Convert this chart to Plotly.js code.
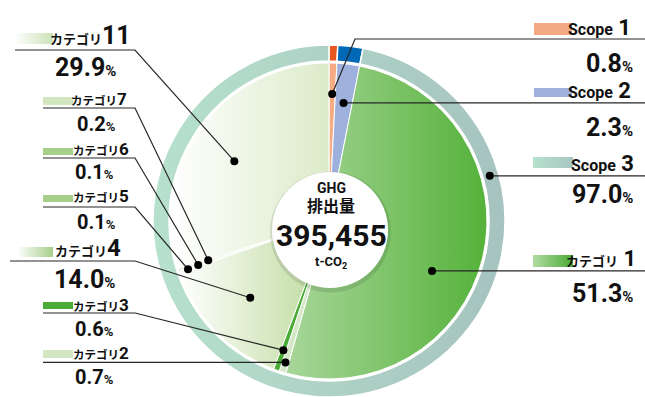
<!DOCTYPE html>
<html><head><meta charset="utf-8">
<script src="https://cdn.plot.ly/plotly-3.0.1.min.js"></script>
<style>html,body{margin:0;padding:0;background:#fff}#chart{width:645px;height:397px}</style>
</head><body><div id="chart"></div>
<script>
// ---- data ----
const ringLabels = ['Scope 1', 'Scope 2', 'Scope 3'];
const ringValues = [0.8, 2.3, 97.0];
const pieLabels = ['Scope 1', 'Scope 2', 'カテゴリ1', 'カテゴリ2', 'カテゴリ3', 'カテゴリ4', 'カテゴリ5', 'カテゴリ6', 'カテゴリ7', 'カテゴリ11'];
const pieValues = [0.8, 2.3, 51.3, 0.7, 0.6, 14.0, 0.1, 0.1, 0.2, 29.9];
const centerTitle = ['GHG', '排出量'];
const totalValue = '395,455';
const totalUnit = 't-CO<sub>2</sub>';

// ---- styles / geometry ----
const W = 645, H = 397;
const CX = 329, CY = 221, R_OUT = 176, R_IN = 158;
const FONT = "'Liberation Sans Narrow', Roboto, 'Noto Sans CJK JP', sans-serif";
const px = x => x / W, py = y => 1 - y / H;
const ringColors = ['#e8571e', '#0068b7', '#b0d3c6'];
const pieColors = ['#f5ac82', '#9eb0dc', '#80c46a', '#d5e8c8', '#4aac36', '#d4e8bf', '#a8d48c', '#a8d48c', '#d2e6c0', '#eef5e4'];
const ringGrad = {2: ['#b6e1cd', '#a6c3bf']};
const pieGrad = {2: ['#a8d69a', '#55b23a'], 5: ['#ffffff', '#bcd99a'], 9: ['#ffffff', '#dcebc9']};

function sliceAngles(vals) {
  const tot = vals.reduce((a, b) => a + b, 0);
  let c = 0;
  return vals.map(v => { const s = c / tot * 360; c += v; return [s, c / tot * 360]; });
}
const ringAng = sliceAngles(ringValues), pieAng = sliceAngles(pieValues);

const leaders = [
  {tr: 'pie', i: 9, frac: 0.464, r: 112, side: 'L', x0: 15, y: 50, head: [133, 36, 25, 13], pct: [85, 67.5, 25, 15], sw: [15, 33, 53, 44], g: ['#ffffff', '#cbe1b7']},
  {tr: 'pie', i: 8, frac: 0.5, r: 127, side: 'L', x0: 43, y: 108, head: [129, 99, 17, 11.5], pct: [96, 124, 20, 13], sw: [43, 97, 73, 105], c: '#d2e6c0'},
  {tr: 'pie', i: 7, frac: 0.5, r: 138, side: 'L', x0: 43, y: 158, head: [131, 149, 17, 11.5], pct: [94, 172, 20, 13], sw: [43, 148, 73, 155], c: '#a6d08a'},
  {tr: 'pie', i: 6, frac: 0.5, r: 149, side: 'L', x0: 43, y: 207, head: [131, 196, 17, 11.5], pct: [96, 222, 20, 13], sw: [43, 195, 73, 202], c: '#a6d08a'},
  {tr: 'pie', i: 5, frac: 0.5, r: 110, side: 'L', x0: 10, y: 261, head: [123, 248.5, 24, 13], pct: [84, 279, 25, 15], sw: [17, 247, 53, 257], g: ['#ffffff', '#a6cf8a']},
  {tr: 'pie', i: 4, frac: 0.5, r: 137, side: 'L', x0: 43, y: 313, head: [131, 304.5, 17, 11.5], pct: [94, 329, 20, 13], sw: [43, 302, 73, 309], c: '#4aac36'},
  {tr: 'pie', i: 3, frac: 0.5, r: 148, side: 'L', x0: 43, y: null, head: [131, 353, 17, 11.5], pct: [94, 377, 20, 13], sw: [43, 350, 73, 358], c: '#d4e6c4'},
  {tr: 'ring', i: 0, frac: 0.5, r: 127, side: 'R', ex: 355, y: 39, head: [633, 27.5, 22, 16], pct: [635, 64, 25, 15], sw: [534, 23, 572, 35], c: '#f4a982', pieIdx: 0},
  {tr: 'ring', i: 1, frac: 0.5, r: 119, side: 'R', y: null, head: [633, 91, 22, 16], pct: [635, 127, 25, 15], sw: [534, 88, 572, 97], c: '#9db1dc', pieIdx: 1},
  {tr: 'ring', i: 2, frac: 0.181, r: 167, side: 'R', y: null, head: [636, 163.5, 22, 16], pct: [635, 194, 25, 15], sw: [533, 157, 573, 168], g: ['#b6e1cd', '#a8c6c1']},
  {tr: 'pie', i: 2, frac: 0.567, r: 114.5, side: 'R', y: null, head: [638, 258.5, 22, 13], pct: [635, 293, 25, 15], sw: [533, 255, 573, 267], g: ['#b0dba3', '#4aab33']}
];

const shapes = [], annotations = [], swatchGrads = [];
const LINE = {color: '#262626', width: 1.2};

leaders.forEach(L => {
  const ang = L.pieIdx !== undefined ? pieAng[L.pieIdx] : (L.tr === 'pie' ? pieAng[L.i] : ringAng[L.i]);
  const th = (ang[0] + L.frac * (ang[1] - ang[0])) * Math.PI / 180;
  const dx = CX + L.r * Math.sin(th), dy = CY - L.r * Math.cos(th);
  let path;
  if (L.side === 'L') {
    if (L.y === null) path = `M${px(L.x0)},${py(dy)} L${px(dx)},${py(dy)}`;
    else path = `M${px(L.x0)},${py(L.y)} L${px(135)},${py(L.y)} L${px(dx)},${py(dy)}`;
  } else {
    if (L.y === null) path = `M${px(dx)},${py(dy)} L${px(W)},${py(dy)}`;
    else path = `M${px(dx)},${py(dy)} L${px(L.ex)},${py(L.y)} L${px(W)},${py(L.y)}`;
  }
  shapes.push({type: 'path', xref: 'paper', yref: 'paper', path, line: LINE});
  shapes.push({type: 'circle', xref: 'paper', yref: 'paper', x0: px(dx - 4), x1: px(dx + 4), y0: py(dy + 4), y1: py(dy - 4), fillcolor: '#000', line: {width: 0}});
  const s = L.sw;
  if (L.g) swatchGrads.push([shapes.length, L.g]);
  shapes.push({type: 'rect', xref: 'paper', yref: 'paper', x0: px(s[0]), x1: px(s[2]), y0: py(s[3]), y1: py(s[1]), fillcolor: L.c || L.g[1], line: {width: 0}});

  const label = L.tr === 'pie' ? pieLabels[L.i] : ringLabels[L.i];
  const val = L.tr === 'pie' ? pieValues[L.i] : ringValues[L.i];
  let word, num;
  if (label.startsWith('カテゴリ')) { word = 'カテゴリ'; num = label.slice(4); }
  else { const p = label.split(' '); word = p[0]; num = p[1]; }
  const sep = (L.side === 'R') ? ' ' : '';
  const h = L.head;
  annotations.push({xref: 'paper', yref: 'paper', x: px(h[0]), y: py(h[1]), xanchor: 'right', yanchor: 'middle', showarrow: false,
    text: `<span style="font-size:${h[3]}px">${word}</span>${sep}${num}`, font: {family: FONT, size: h[2], color: '#111', weight: 'bold'}});
  const p = L.pct;
  annotations.push({xref: 'paper', yref: 'paper', x: px(p[0]), y: py(p[1]), xanchor: L.side === 'L' ? 'center' : 'right', yanchor: 'middle', showarrow: false,
    text: `${val.toFixed(1)}<span style="font-size:${p[3]}px">%</span>`, font: {family: FONT, size: p[2], color: '#111', weight: 'bold'}});
});

// center disc
shapes.push({type: 'circle', xref: 'paper', yref: 'paper', x0: px(330.5 - 60.5), x1: px(330.5 + 60.5), y0: py(232 + 60.5), y1: py(232 - 60.5), fillcolor: 'rgba(0,0,0,0.10)', line: {width: 0}});
shapes.push({type: 'circle', xref: 'paper', yref: 'paper', x0: px(330 - 58), x1: px(330 + 58), y0: py(230 + 58), y1: py(230 - 58), fillcolor: '#fff', line: {width: 0}});

const cTexts = [[centerTitle[0], 188, 14], [centerTitle[1], 206, 16], [totalValue, 235.5, 30], [totalUnit, 262, 13]];
cTexts.forEach(t => annotations.push({xref: 'paper', yref: 'paper', x: px(331), y: py(t[1]), xanchor: 'center', yanchor: 'middle', showarrow: false,
  text: t[0], font: {family: FONT, size: t[2], color: '#111', weight: 'bold'}}));

const data = [
  {type: 'pie', values: ringValues, labels: ringLabels, sort: false, direction: 'clockwise', rotation: 0, hole: 160 / 176,
    textinfo: 'none', hoverinfo: 'skip', showlegend: false,
    marker: {colors: ringColors, line: {color: '#fff', width: 1.5}},
    domain: {x: [px(CX - R_OUT), px(CX + R_OUT)], y: [py(CY + R_OUT), py(CY - R_OUT)]}},
  {type: 'pie', values: pieValues, labels: pieLabels, sort: false, direction: 'clockwise', rotation: 0,
    textinfo: 'none', hoverinfo: 'skip', showlegend: false,
    marker: {colors: pieColors, line: {color: '#fff', width: 1}},
    domain: {x: [px(CX - R_IN), px(CX + R_IN)], y: [py(CY + R_IN), py(CY - R_IN)]}}
];
const layout = {width: W, height: H, margin: {l: 0, r: 0, t: 0, b: 0}, paper_bgcolor: '#fff', plot_bgcolor: '#fff',
  showlegend: false, shapes, annotations};

const gd = document.getElementById('chart');
Plotly.newPlot(gd, data, layout, {staticPlot: true, displayModeBar: false}).then(() => {
  try {
    const ns = 'http://www.w3.org/2000/svg';
    const svg = gd.querySelector('svg.main-svg');
    let defs = svg.querySelector('defs');
    if (!defs) { defs = document.createElementNS(ns, 'defs'); svg.insertBefore(defs, svg.firstChild); }
    let n = 0;
    const mk = (c0, c1) => {
      const id = 'lg' + (n++);
      const g = document.createElementNS(ns, 'linearGradient');
      g.setAttribute('id', id); g.setAttribute('x1', '0'); g.setAttribute('y1', '0'); g.setAttribute('x2', '1'); g.setAttribute('y2', '0');
      [[0, c0], [1, c1]].forEach(([o, c]) => { const s = document.createElementNS(ns, 'stop'); s.setAttribute('offset', o); s.setAttribute('stop-color', c); g.appendChild(s); });
      defs.appendChild(g);
      return 'url(#' + id + ')';
    };
    const traces = svg.querySelectorAll('.pielayer .trace');
    const ringS = traces[0].querySelectorAll('path.surface');
    const pieS = traces[1].querySelectorAll('path.surface');
    Object.keys(ringGrad).forEach(k => ringS[k] && ringS[k].style.setProperty('fill', mk(...ringGrad[k])));
    Object.keys(pieGrad).forEach(k => pieS[k] && pieS[k].style.setProperty('fill', mk(...pieGrad[k])));
    const shapeEls = gd.querySelectorAll('.shapelayer path');
    swatchGrads.forEach(([idx, g]) => {
      let el = null;
      shapeEls.forEach(e => { if (+e.getAttribute('data-index') === idx) el = e; });
      if (!el) el = shapeEls[idx];
      if (el) el.style.setProperty('fill', mk(g[0], g[1]));
    });
  } catch (e) { console.error(e); }
});
</script>
</body></html>
